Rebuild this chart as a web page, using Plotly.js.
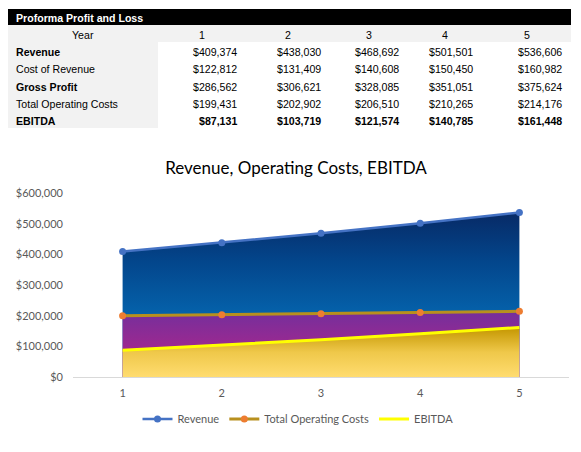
<!DOCTYPE html>
<html>
<head>
<meta charset="utf-8">
<script src="https://cdn.plot.ly/plotly-3.0.1.min.js"></script>
<style>
  html, body { margin: 0; padding: 0; background: #ffffff; }
  #chart { width: 581px; height: 452px; }
</style>
</head>
<body>
<div id="chart"></div>
<script>
// proforma figures
const tableTitle = 'Proforma Profit and Loss';
const yearLabel = 'Year';
const years = [1, 2, 3, 4, 5];
const rowLabels = ['Revenue', 'Cost of Revenue', 'Gross Profit', 'Total Operating Costs', 'EBITDA'];
const boldLabels = ['Revenue', 'Gross Profit', 'EBITDA'];
const boldValues = ['EBITDA'];
const revenue = [409374, 438030, 468692, 501501, 536606];
const costOfRevenue = [122812, 131409, 140608, 150450, 160982];
const grossProfit = [286562, 306621, 328085, 351051, 375624];
const operatingCosts = [199431, 202902, 206510, 210265, 214176];
const ebitda = [87131, 103719, 121574, 140785, 161448];

const chartTitle = 'Revenue, Operating Costs, EBITDA';
const seriesNames = ['Revenue', 'Total Operating Costs', 'EBITDA'];

const W = 581, H = 452;
const px = (x) => x / W;
const py = (y) => 1 - y / H;

const tableFont = 'Arial, "Liberation Sans", sans-serif';
const chartFont = 'Lato, "Open Sans", sans-serif';

// sheet grid, in window pixels
const colEdges = [8, 158, 246, 330, 408, 482, 571];
const titleBand = [9, 25];
const yearBand = [25, 42];
const rowTop = 42, rowH = 17.2;

const money = (v) => '$' + v.toLocaleString('en-US');
const rowsByLabel = {
    'Revenue': revenue,
    'Cost of Revenue': costOfRevenue,
    'Gross Profit': grossProfit,
    'Total Operating Costs': operatingCosts,
    'EBITDA': ebitda,
};

const rect = (x0, x1, y0, y1, color) => ({
    type: 'rect', xref: 'paper', yref: 'paper', layer: 'below',
    x0: px(x0), x1: px(x1), y0: py(y1), y1: py(y0),
    fillcolor: color, line: { width: 0 },
});

const cellText = (text, x, y, xanchor, opts = {}) => ({
    text, xref: 'paper', yref: 'paper',
    x: px(x), y: py(y), xanchor, yanchor: 'middle',
    showarrow: false,
    font: { family: tableFont, size: 10.6, color: opts.color || '#000000', weight: opts.bold ? 'bold' : 'normal' },
});

const tableRight = colEdges[colEdges.length - 1];
const shapes = [
    rect(colEdges[0], tableRight, titleBand[0], titleBand[1], '#000000'),
    rect(colEdges[0], tableRight, yearBand[0], yearBand[1], '#f2f2f2'),
    rect(colEdges[0], colEdges[1], rowTop, rowTop + rowLabels.length * rowH, '#f2f2f2'),
];

const annotations = [
    cellText(tableTitle, colEdges[0] + 6, (titleBand[0] + titleBand[1]) / 2 + 1.5, 'left', { color: '#ffffff', bold: true }),
    cellText(yearLabel, (colEdges[0] + colEdges[1]) / 2, (yearBand[0] + yearBand[1]) / 2 + 1, 'center'),
];
years.forEach((yr, i) => {
    annotations.push(cellText(String(yr), (colEdges[i + 1] + colEdges[i + 2]) / 2,
        (yearBand[0] + yearBand[1]) / 2 + 1, 'center'));
});
rowLabels.forEach((label, r) => {
    const yc = rowTop + rowH * (r + 0.5) + 1.5;
    annotations.push(cellText(label, colEdges[0] + 6, yc, 'left', { bold: boldLabels.includes(label) }));
    rowsByLabel[label].forEach((v, i) => {
        annotations.push(cellText(money(v), colEdges[i + 2] - 7, yc, 'right', { bold: boldValues.includes(label) }));
    });
});

const area = (y, colorscale) => ({
    x: years, y,
    type: 'scatter', mode: 'none',
    fill: 'tozeroy',
    fillgradient: { type: 'vertical', colorscale },
    showlegend: false, hoverinfo: 'skip',
});

const data = [
    area(revenue, [[0, '#0a74c8'], [0.37, '#0563ac'], [0.7, '#03468c'], [1, '#072a66']]),
    area(operatingCosts, [[0, '#b82387'], [0.4, '#a0288f'], [1, '#742f9c']]),
    area(ebitda, [[0, '#ffdc70'], [0.5, '#efc84a'], [1, '#c49600']]),
    {
        x: years, y: revenue, name: seriesNames[0],
        type: 'scatter', mode: 'lines+markers',
        line: { color: '#4472c4', width: 2.5 },
        marker: { color: '#4472c4', size: 7 },
    },
    {
        x: years, y: operatingCosts, name: seriesNames[1],
        type: 'scatter', mode: 'lines+markers',
        line: { color: '#b8901e', width: 3 },
        marker: { color: '#ed7d31', size: 7 },
    },
    {
        x: years, y: ebitda, name: seriesNames[2],
        type: 'scatter', mode: 'lines',
        line: { color: '#ffff00', width: 3 },
    },
];

const layout = {
    width: W, height: H,
    margin: { l: 0, r: 0, t: 0, b: 0 },
    paper_bgcolor: '#ffffff',
    plot_bgcolor: 'rgba(0,0,0,0)',
    font: { family: chartFont, size: 11, color: '#595959' },
    title: {
        text: chartTitle,
        x: px(296), xanchor: 'center',
        y: py(168), yanchor: 'middle',
        font: { family: chartFont, size: 17, color: '#000000' },
    },
    xaxis: {
        domain: [px(73), px(569)],
        range: [0.5, 5.5],
        tickvals: years,
        showgrid: false, zeroline: false,
        showline: true, linecolor: '#d9d9d9', linewidth: 1,
        ticks: '', ticklabelstandoff: 6,
        fixedrange: true,
    },
    yaxis: {
        domain: [py(377), py(193)],
        range: [0, 600000],
        dtick: 100000,
        tickprefix: '$', tickformat: ',d',
        showgrid: false, zeroline: false, showline: false,
        ticks: '', ticklabelstandoff: 9,
        fixedrange: true,
    },
    showlegend: true,
    legend: {
        orientation: 'h',
        x: px(298), xanchor: 'center',
        y: py(419), yanchor: 'middle',
        font: { family: chartFont, size: 11, color: '#595959' },
        itemwidth: 30,
        traceorder: 'normal',
    },
    shapes,
    annotations,
    hovermode: false,
};

Plotly.newPlot('chart', data, layout, { displayModeBar: false, staticPlot: true });
</script>
</body>
</html>
